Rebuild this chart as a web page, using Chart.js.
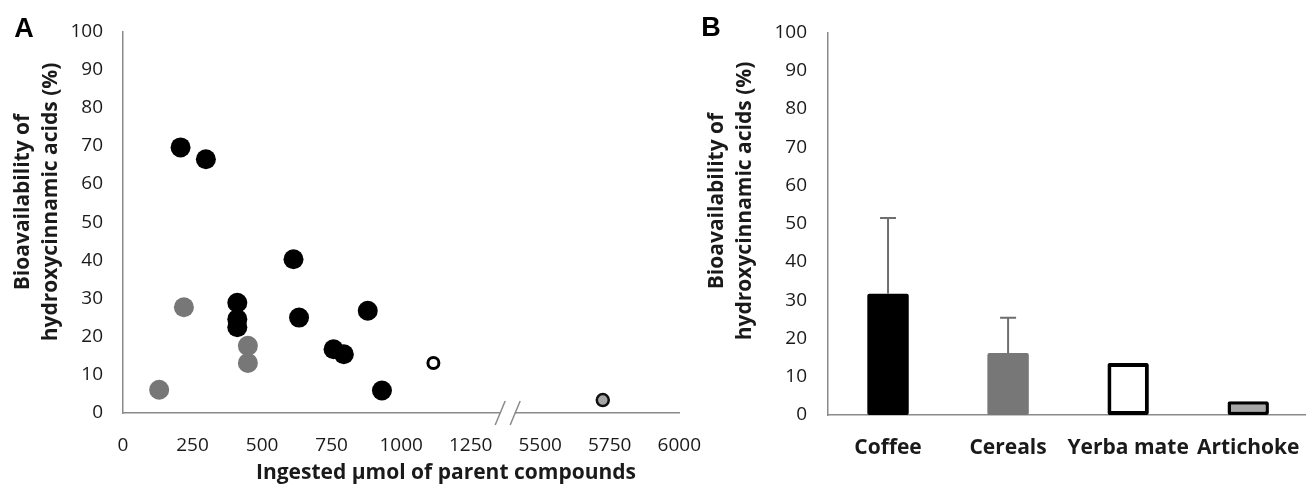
<!DOCTYPE html>
<html>
<head>
<meta charset="utf-8">
<script src="https://cdn.jsdelivr.net/npm/chart.js@4.4.1/dist/chart.umd.min.js"></script>
<style>
    html, body { margin: 0; padding: 0; background: #fff; overflow: hidden; width: 1306px; height: 490px; }
    #boxA { position: absolute; left: 0; top: 0; width: 722px; height: 490px; }
    #boxB { position: absolute; left: 700px; top: 0; width: 620px; height: 490px; }
</style>
</head>
<body>
<div id="boxA"><canvas id="chartA"></canvas></div>
<div id="boxB"><canvas id="chartB"></canvas></div>
<script>
// Painel A - pontos individuais (x = µmol ingeridos, y = biodisponibilidade %)
const coffeeX = [207, 298, 613, 411, 411, 411, 633, 880, 757, 794, 931];
const coffeeY = [69.6, 66.5, 40.3, 28.9, 24.6, 22.5, 25.0, 26.8, 16.7, 15.4, 5.9];
const cerealX = [219, 449, 449, 130];
const cerealY = [27.7, 17.6, 13.1, 6.1];
const mateX = [1116];
const mateY = [13.1];
const artichokeX = [5725];
const artichokeY = [3.4];
const xTickLabels = ['0', '250', '500', '750', '1000', '1250', '5500', '5750', '6000'];
const yTickLabels = ['0', '10', '20', '30', '40', '50', '60', '70', '80', '90', '100'];

// Painel B - médias e desvio
const foods = ['Coffee', 'Cereals', 'Yerba mate', 'Artichoke'];
const meanBio = [31.7, 16.2, 13.6, 3.6];
const sdBio = [19.8, 9.2, null, null];

const axisGray = '#8a8a8a';
const textColor = '#1a1a1a';
const gray = '#777777';

// eixo quebrado: 1250 -> 5500 ocupa um passo de 250
function toAxis(x) {
    return x <= 1250 ? x : x - 4000;
}
function pts(xs, ys) {
    return xs.map((x, i) => ({ x: toAxis(x), y: ys[i] }));
}

// textos livres (letras dos painéis e títulos dos eixos)
function textPlugin(items) {
    return {
        id: 'freeText',
        afterDraw(chart) {
            const ctx = chart.ctx;
            items.forEach(t => {
                ctx.save();
                ctx.translate(t.x, t.y);
                if (t.rot) ctx.rotate(t.rot);
                ctx.font = t.font;
                ctx.fillStyle = t.color || textColor;
                ctx.textAlign = 'center';
                ctx.textBaseline = 'middle';
                ctx.fillText(t.text, 0, 0);
                ctx.restore();
            });
        }
    };
}

const axisBreak = {
    id: 'axisBreak',
    afterDraw(chart) {
        const sx = chart.scales.x;
        const ctx = chart.ctx;
        const cx = sx.getPixelForValue(1383);
        const y = sx.top;
        ctx.save();
        ctx.fillStyle = '#fff';
        ctx.fillRect(cx - 7, y - 3, 14, 6);
        ctx.strokeStyle = axisGray;
        ctx.lineWidth = 1.5;
        [-7.5, 7.5].forEach(d => {
            ctx.beginPath();
            ctx.moveTo(cx + d - 5, y + 12);
            ctx.lineTo(cx + d + 5, y - 12);
            ctx.stroke();
        });
        ctx.restore();
    }
};

const errorBars = {
    id: 'errorBars',
    afterDatasetsDraw(chart) {
        const meta = chart.getDatasetMeta(0);
        const sy = chart.scales.y;
        const ctx = chart.ctx;
        ctx.save();
        ctx.strokeStyle = '#6e6e6e';
        ctx.lineWidth = 2;
        meta.data.forEach((bar, i) => {
            if (sdBio[i] == null) return;
            const y0 = sy.getPixelForValue(meanBio[i]);
            const y1 = sy.getPixelForValue(meanBio[i] + sdBio[i]);
            ctx.beginPath();
            ctx.moveTo(bar.x, y0);
            ctx.lineTo(bar.x, y1);
            ctx.moveTo(bar.x - 8, y1);
            ctx.lineTo(bar.x + 8, y1);
            ctx.stroke();
        });
        ctx.restore();
    }
};

const tickFont = { family: 'Open Sans', size: 19 };
const titleFont = 'bold 21px "Open Sans"';
const letterFont = 'bold 27px "Liberation Sans"';

// ================================
// Painel A - dispersão
// ================================
new Chart(document.getElementById('chartA'), {
    type: 'scatter',
    data: {
        datasets: [
            { data: pts(coffeeX, coffeeY), backgroundColor: '#000', borderWidth: 0, pointRadius: 10 },
            { data: pts(cerealX, cerealY), backgroundColor: gray, borderWidth: 0, pointRadius: 10 },
            { data: pts(mateX, mateY), backgroundColor: '#fff', borderColor: '#000', borderWidth: 3, pointRadius: 5.5 },
            { data: pts(artichokeX, artichokeY), backgroundColor: '#a6a6a6', borderColor: '#111', borderWidth: 2.5, pointRadius: 6 }
        ]
    },
    options: {
        responsive: true,
        maintainAspectRatio: false,
        animation: false,
        events: [],
        layout: { padding: { top: 31, right: 18, left: 0, bottom: 0 } },
        plugins: { legend: { display: false }, tooltip: { enabled: false } },
        scales: {
            x: {
                type: 'linear',
                min: 0,
                max: 2000,
                afterFit: s => { s.height = 77; },
                grid: { display: false, drawTicks: false },
                border: { color: axisGray, width: 1.5 },
                ticks: {
                    stepSize: 250,
                    padding: 21,
                    color: textColor,
                    font: tickFont,
                    maxRotation: 0,
                    autoSkip: false,
                    callback: (v, i) => xTickLabels[i]
                }
            },
            y: {
                min: 0,
                max: 100,
                afterFit: s => { s.width = 123; },
                grid: { display: false, drawTicks: false },
                border: { color: axisGray, width: 1.5 },
                ticks: {
                    stepSize: 10,
                    padding: 20,
                    color: textColor,
                    font: tickFont,
                    callback: (v, i) => yTickLabels[i]
                }
            }
        }
    },
    plugins: [axisBreak, textPlugin([
        { text: 'A', x: 24, y: 30, font: letterFont, color: '#000' },
        { text: 'Bioavailability of', x: 23, y: 202, rot: -Math.PI / 2, font: titleFont },
        { text: 'hydroxycinnamic acids (%)', x: 51, y: 202, rot: -Math.PI / 2, font: titleFont },
        { text: 'Ingested µmol of parent compounds', x: 446, y: 473, font: titleFont }
    ])]
});

// ================================
// Painel B - barras com desvio
// ================================
new Chart(document.getElementById('chartB'), {
    type: 'bar',
    data: {
        labels: foods,
        datasets: [{
            data: meanBio,
            backgroundColor: ['#000', gray, '#fff', '#a6a6a6'],
            borderColor: '#000',
            borderWidth: [0, 0, 4, 3.5],
            borderSkipped: false,
            borderRadius: 2,
            barPercentage: 0.345,
            categoryPercentage: 1
        }]
    },
    options: {
        responsive: true,
        maintainAspectRatio: false,
        animation: false,
        events: [],
        layout: { padding: { top: 31, right: 4, left: 0, bottom: 0 } },
        plugins: { legend: { display: false }, tooltip: { enabled: false } },
        scales: {
            x: {
                afterFit: s => { s.height = 75; },
                grid: { display: false, drawTicks: false },
                border: { color: axisGray, width: 1.5 },
                ticks: {
                    padding: 20,
                    color: textColor,
                    font: { family: 'Open Sans', size: 21, weight: 'bold' },
                    maxRotation: 0,
                    autoSkip: false
                }
            },
            y: {
                min: 0,
                max: 100,
                afterFit: s => { s.width = 128; },
                grid: { display: false, drawTicks: false },
                border: { color: axisGray, width: 1.5 },
                ticks: {
                    stepSize: 10,
                    padding: 21,
                    color: textColor,
                    font: tickFont,
                    callback: (v, i) => yTickLabels[i]
                }
            }
        }
    },
    plugins: [errorBars, textPlugin([
        { text: 'B', x: 11, y: 29, font: letterFont, color: '#000' },
        { text: 'Bioavailability of', x: 17, y: 201, rot: -Math.PI / 2, font: titleFont },
        { text: 'hydroxycinnamic acids (%)', x: 45, y: 201, rot: -Math.PI / 2, font: titleFont }
    ])]
});
</script>
</body>
</html>
